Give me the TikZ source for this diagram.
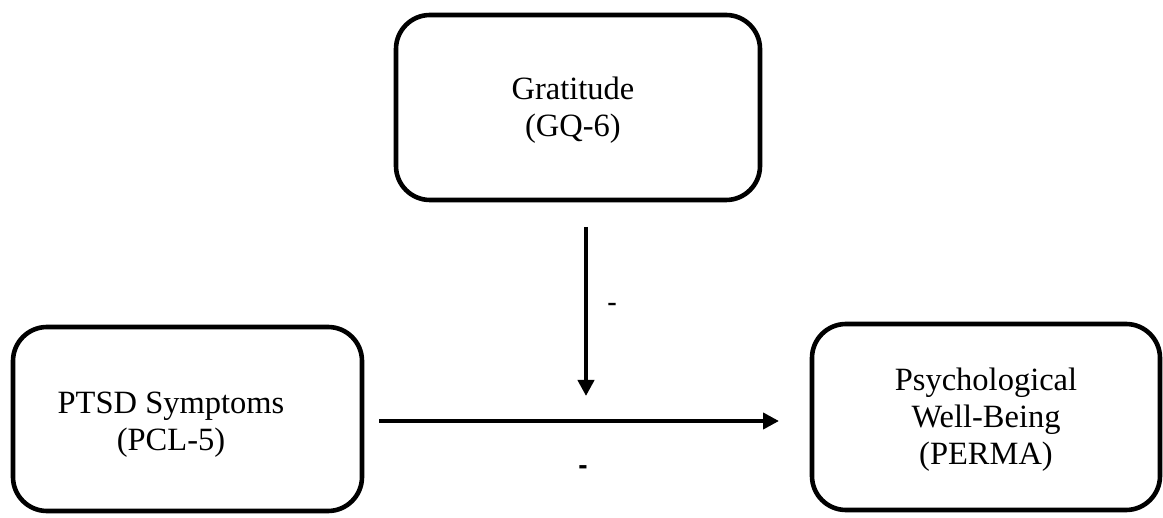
\documentclass[tikz,border=0pt]{standalone}
\usepackage{fontspec}
\setmainfont{Liberation Serif}
\newfontfamily\arialfont{Liberation Sans}
\usetikzlibrary{arrows.meta}
\begin{document}
\begin{tikzpicture}[x=1pt,y=-1pt,
  box/.style={draw=black,line width=4.6pt,rounded corners=34pt,minimum width=#1,inner sep=0pt,fill=none},
  boxtext/.style={align=center,inner sep=0pt,font=\fontsize{32.5}{37}\selectfont},
  arr/.style={line width=4.6pt,-{Triangle[length=16pt,width=16pt]}},
  signlbl/.style={inner sep=0pt,font=\arialfont\fontsize{30}{34}\selectfont}]
\useasboundingbox (0,0) rectangle (1163,518);
\node[box=364pt,minimum height=185pt] (grat) at (578,107.5) {};
\node[box=349pt,minimum height=184pt] (ptsd) at (187.5,419) {};
\node[box=348pt,minimum height=186pt] (perma) at (986,417) {};
\node[boxtext] (gratT) at (573,110) {Gratitude\\(GQ-6)};
\node[boxtext] (ptsdT) at (171,425) {PTSD Symptoms\\(PCL-5)};
\node[boxtext] (permaT) at (986,420) {Psychological\\Well-Being\\(PERMA)};
\coordinate (vs) at (586,227);
\coordinate (ve) at (586,396);
\coordinate (hs) at (379,421);
\coordinate (he) at (779,421);
\draw[arr] (vs) -- (ve);
\draw[arr] (hs) -- (he);
\node[signlbl] (m1) at (612,308) {-};
\node[signlbl,font=\arialfont\bfseries\fontsize{28}{32}\selectfont] (m2) at (583,470) {-};
\end{tikzpicture}
\end{document}
